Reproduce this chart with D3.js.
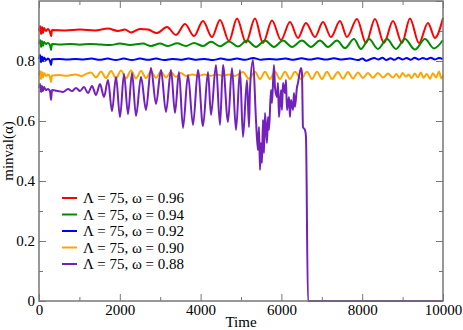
<!DOCTYPE html>
<html>
<head>
<meta charset="utf-8">
<script src="https://cdn.jsdelivr.net/npm/d3@7"></script>
<style>
body{margin:0;background:#fff}
text{font-family:"Liberation Serif","Times New Roman",serif}
</style>
</head>
<body>
<svg id="chart" width="463" height="330"></svg>
<script>
// series: [time, minval(alpha)]
var w096 = [[0,0.900],[25,0.917],[50,0.890],[75,0.913],[100,0.893],[125,0.910],[170,0.900],[220,0.907],[270,0.897],[300,0.883],[322,0.903],[644,0.902],[1015,0.905],[1386,0.902],[1708,0.908],[1955,0.900],[2129,0.905],[2277,0.895],[2500,0.907],[2698,0.905],[2921,0.893],[3168,0.913],[3391,0.887],[3614,0.923],[3836,0.883],[4059,0.933],[4282,0.880],[4480,0.937],[4703,0.867],[4901,0.942],[5123,0.862],[5346,0.942],[5544,0.860],[5767,0.935],[5990,0.870],[6212,0.930],[6410,0.877],[6608,0.927],[6831,0.880],[7029,0.930],[7227,0.880],[7450,0.933],[7623,0.880],[7871,0.940],[8093,0.860],[8316,0.940],[8539,0.860],[8762,0.933],[8984,0.860],[9182,0.942],[9405,0.860],[9628,0.927],[9801,0.877],[10000,0.943]]
var w094 = [[0,0.857],[25,0.870],[50,0.847],[74,0.867],[99,0.850],[124,0.863],[173,0.857],[223,0.860],[272,0.853],[297,0.837],[322,0.857],[520,0.855],[770,0.857],[1010,0.854],[1260,0.857],[1510,0.855],[1760,0.853],[2000,0.858],[2250,0.853],[2574,0.858],[2772,0.850],[2995,0.858],[3193,0.850],[3416,0.859],[3638,0.850],[3836,0.860],[4059,0.850],[4257,0.864],[4480,0.849],[4703,0.865],[4925,0.848],[5148,0.868],[5371,0.847],[5594,0.868],[5816,0.847],[6039,0.868],[6262,0.847],[6509,0.868],[6732,0.847],[6955,0.868],[7153,0.847],[7376,0.868],[7574,0.843],[7796,0.873],[7970,0.840],[8168,0.873],[8390,0.840],[8613,0.873],[8836,0.840],[9059,0.873],[9306,0.838],[9554,0.873],[9776,0.842],[10000,0.870]]
var w092 = [[0,0.806],[25,0.820],[50,0.796],[74,0.815],[99,0.800],[124,0.812],[173,0.803],[223,0.808],[272,0.800],[297,0.787],[322,0.806],[500,0.807],[700,0.805],[900,0.807],[1100,0.805],[1300,0.808],[1500,0.804],[1700,0.808],[1900,0.803],[2100,0.808],[2300,0.803],[2500,0.808],[2700,0.804],[2900,0.808],[3100,0.803],[3300,0.807],[3500,0.804],[3700,0.808],[3900,0.804],[4100,0.807],[4300,0.803],[4500,0.808],[4700,0.804],[4900,0.808],[5100,0.804],[5300,0.810],[5500,0.804],[5700,0.807],[5900,0.805],[6100,0.808],[6300,0.804],[6500,0.809],[6700,0.805],[6900,0.809],[7100,0.805],[7300,0.809],[7500,0.805],[7700,0.808],[7900,0.803],[8000,0.808],[8100,0.801],[8200,0.806],[8300,0.810],[8400,0.805],[8500,0.811],[8600,0.803],[8700,0.809],[8800,0.804],[8900,0.811],[9000,0.805],[9100,0.810],[9200,0.804],[9300,0.811],[9400,0.805],[9500,0.810],[9600,0.806],[9700,0.811],[9800,0.805],[9900,0.810],[10000,0.806]]
var w090 = [[0,0.753],[25,0.767],[50,0.740],[74,0.763],[99,0.745],[124,0.760],[173,0.750],[223,0.755],[272,0.747],[297,0.730],[322,0.752],[500,0.753],[700,0.751],[900,0.755],[1050,0.750],[1170,0.757],[1287,0.762],[1411,0.745],[1535,0.765],[1658,0.743],[1782,0.767],[1906,0.742],[2030,0.768],[2153,0.742],[2277,0.768],[2401,0.742],[2525,0.767],[2648,0.743],[2772,0.766],[2896,0.744],[3020,0.765],[3143,0.745],[3267,0.763],[3391,0.747],[3515,0.760],[3638,0.750],[3800,0.755],[3950,0.751],[4100,0.755],[4250,0.751],[4400,0.755],[4550,0.751],[4700,0.755],[4850,0.750],[5049,0.763],[5198,0.741],[5346,0.764],[5470,0.740],[5594,0.764],[5717,0.740],[5841,0.764],[5965,0.740],[6089,0.764],[6212,0.740],[6336,0.764],[6485,0.740],[6633,0.764],[6757,0.740],[6881,0.764],[7004,0.740],[7128,0.764],[7252,0.740],[7400,0.763],[7524,0.741],[7648,0.763],[7772,0.742],[7895,0.762],[8019,0.743],[8143,0.760],[8267,0.744],[8390,0.760],[8514,0.745],[8638,0.758],[8762,0.745],[8850,0.757],[8920,0.744],[9000,0.760],[9080,0.748],[9150,0.755],[9220,0.743],[9300,0.758],[9380,0.746],[9450,0.762],[9520,0.744],[9600,0.757],[9680,0.741],[9750,0.759],[9830,0.745],[9900,0.765],[9960,0.742],[10000,0.752]]
var w088 = [[0,0.710],[25,0.723],[50,0.697],[74,0.717],[99,0.700],[124,0.713],[173,0.703],[223,0.707],[272,0.700],[297,0.670],[322,0.703],[470,0.700],[594,0.697],[718,0.707],[817,0.700],[916,0.710],[1015,0.700],[1114,0.713],[1213,0.693],[1312,0.717],[1411,0.687],[1510,0.723],[1609,0.680],[1708,0.737],[1807,0.633],[1906,0.747],[2005,0.613],[2104,0.757],[2203,0.623],[2302,0.760],[2401,0.617],[2525,0.747],[2648,0.637],[2772,0.777],[2896,0.657],[3020,0.770],[3143,0.630],[3267,0.770],[3366,0.627],[3465,0.763],[3564,0.577],[3688,0.753],[3812,0.587],[3935,0.770],[4059,0.583],[4183,0.763],[4257,0.620],[4381,0.787],[4480,0.587],[4554,0.787],[4678,0.597],[4777,0.777],[4876,0.570],[4975,0.770],[5049,0.547],[5148,0.737],[5198,0.580],[5222,0.703],[5297,0.803],[5371,0.603],[5420,0.503],[5445,0.580],[5470,0.437],[5495,0.527],[5519,0.460],[5544,0.603],[5569,0.493],[5594,0.627],[5643,0.527],[5668,0.613],[5693,0.570],[5742,0.703],[5767,0.660],[5816,0.787],[5841,0.713],[5891,0.680],[5915,0.727],[5940,0.613],[5990,0.703],[6014,0.637],[6039,0.727],[6089,0.693],[6113,0.737],[6138,0.637],[6188,0.680],[6212,0.613],[6237,0.670],[6287,0.637],[6311,0.693],[6336,0.647],[6386,0.713],[6410,0.727],[6435,0.747],[6485,0.777],[6509,0.760],[6534,0.580],[6584,0.570],[6608,0.547],[6658,0],[10000,0]]

var series = [w096, w094, w092, w090, w088]
var labels = ["Λ = 75, ω = 0.96","Λ = 75, ω = 0.94","Λ = 75, ω = 0.92","Λ = 75, ω = 0.90","Λ = 75, ω = 0.88"]
var colors = ["#ff0000","#008b00","#0000ff","#ffa500","#7221bc"]
var xMajor = [0,2000,4000,6000,8000,10000]
var xMinor = [1000,3000,5000,7000,9000]
var yMajor = [0,0.2,0.4,0.6,0.8]
var yMinor = [0.1,0.3,0.5,0.7,0.9]

var svg = d3.select("#chart")
var x = d3.scaleLinear().domain([0,10000]).range([39,443])
var y = d3.scaleLinear().domain([0,1]).range([301,1])
var axCol = "#777"
var serif = "'Liberation Serif','Times New Roman',serif"

function styleAxis(g){
	g.attr("font-family",null).attr("font-size",null)
	g.select(".domain").remove()
	g.selectAll("line").attr("stroke",axCol).attr("stroke-width",1)
	g.selectAll("text").style("font-family",serif).style("font-size","15px").attr("fill","#000")
}

// bottom / top
svg.append("g").attr("transform","translate(0,301)").call(d3.axisBottom(x).tickValues(xMajor).tickSize(-7).tickPadding(3).tickFormat(d3.format("d"))).call(styleAxis)
svg.append("g").attr("transform","translate(0,301)").call(d3.axisBottom(x).tickValues(xMinor).tickSize(-4).tickFormat("")).call(styleAxis)
svg.append("g").attr("transform","translate(0,1)").call(d3.axisTop(x).tickValues(xMajor).tickSize(-7).tickFormat("")).call(styleAxis)
svg.append("g").attr("transform","translate(0,1)").call(d3.axisTop(x).tickValues(xMinor).tickSize(-4).tickFormat("")).call(styleAxis)
// left / right
svg.append("g").attr("transform","translate(39,0)").call(d3.axisLeft(y).tickValues(yMajor).tickSize(-7).tickPadding(4).tickFormat(function(d){return d===0 ? "0" : d3.format(".1f")(d)})).call(styleAxis)
svg.append("g").attr("transform","translate(39,0)").call(d3.axisLeft(y).tickValues(yMinor).tickSize(-4).tickFormat("")).call(styleAxis)
svg.append("g").attr("transform","translate(443,0)").call(d3.axisRight(y).tickValues(yMajor.concat([1])).tickSize(-7).tickFormat("")).call(styleAxis)
svg.append("g").attr("transform","translate(443,0)").call(d3.axisRight(y).tickValues(yMinor).tickSize(-4).tickFormat("")).call(styleAxis)

var line = d3.line()
	.x(function(d){return x(d[0])})
	.y(function(d){return y(d[1])})
	.curve(d3.curveMonotoneX)

series.forEach(function(s,i){
	svg.append("path")
		.attr("d",line(s))
		.attr("fill","none")
		.attr("stroke",colors[i])
		.attr("stroke-width",2)
		.attr("stroke-linejoin","round")
})

// frame
svg.append("rect").attr("x",39).attr("y",1).attr("width",404).attr("height",300)
	.attr("fill","none").attr("stroke",axCol).attr("stroke-width",1.5)

// legend
var leg = svg.append("g").attr("transform","translate(62,198)")
labels.forEach(function(l,i){
	leg.append("line").attr("x1",0).attr("x2",15).attr("y1",i*16.5).attr("y2",i*16.5)
		.attr("stroke",colors[i]).attr("stroke-width",2)
	leg.append("text").attr("x",21).attr("y",i*16.5+5).style("font-size","15px").text(l)
})

// axis titles
svg.append("text").attr("x",241).attr("y",327).attr("text-anchor","middle").style("font-size","15px").text("Time")
svg.append("text").attr("transform","translate(13,151) rotate(-90)").attr("text-anchor","middle").style("font-size","15px").text("minval(α)")
</script>
</body>
</html>
